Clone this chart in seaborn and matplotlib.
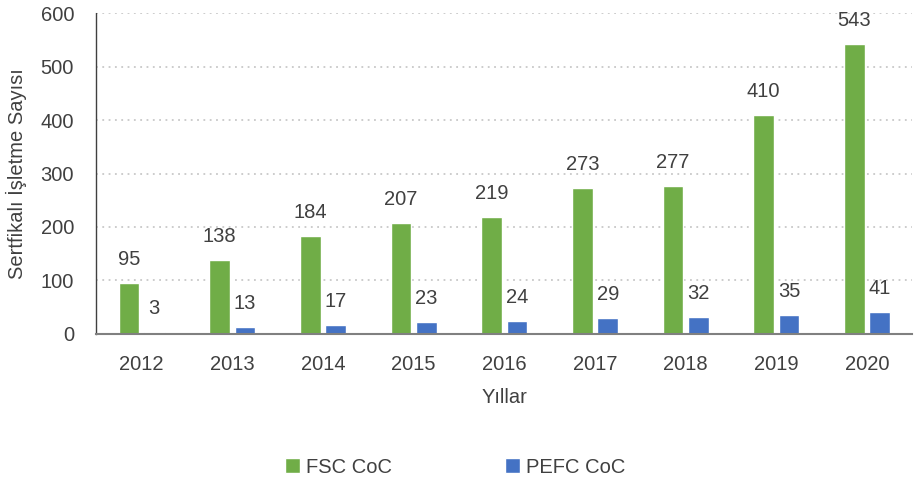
import matplotlib
matplotlib.use("Agg")
import matplotlib.pyplot as plt
import seaborn as sns
import pandas as pd
from matplotlib import font_manager

years = ["2012", "2013", "2014", "2015", "2016", "2017", "2018", "2019", "2020"]
fsc = [95, 138, 184, 207, 219, 273, 277, 410, 543]
pefc = [3, 13, 17, 23, 24, 29, 32, 35, 41]
series_names = ["FSC CoC", "PEFC CoC"]
colors = ["#70AD47", "#4472C4"]

df = pd.DataFrame({
    "Yıl": years * 2,
    "Değer": fsc + pefc,
    "Seri": [series_names[0]] * len(years) + [series_names[1]] * len(years),
})

sns.set_theme(style="white")
names = {f.name for f in font_manager.fontManager.ttflist}
fam = "Liberation Sans Narrow" if "Liberation Sans Narrow" in names else "Liberation Sans"
plt.rcParams["font.family"] = [fam, "DejaVu Sans"]
txt = "#404040"
fs = 14.5

fig = plt.figure(figsize=(9.17, 4.86), dpi=100)
ax = fig.add_axes([0.105, 0.313, 0.89, 0.66])

sns.barplot(data=df, x="Yıl", y="Değer", hue="Seri", palette=colors,
            width=0.56, gap=0.18, ax=ax, legend=True, saturation=1)

for cont in ax.containers:
    ax.bar_label(cont, padding=10, fontsize=fs, color=txt)

ax.set_ylim(0, 600)
ax.set_yticks(range(0, 601, 100))
ax.set_xlim(-0.5, len(years) - 0.5)
ax.yaxis.grid(True, linestyle=(0, (1, 2.5)), color="#C8C8C8", linewidth=1.3)
ax.set_axisbelow(True)
for s in ["top", "right"]:
    ax.spines[s].set_visible(False)
ax.spines["left"].set_linestyle((0, (1, 1)))
ax.spines["left"].set_color("#404040")
ax.spines["left"].set_linewidth(1)
ax.spines["bottom"].set_color("#808080")
ax.spines["bottom"].set_linewidth(1.5)
ax.tick_params(axis="both", labelsize=fs, colors=txt, length=0)
ax.tick_params(axis="x", pad=15)
ax.tick_params(axis="y", pad=16)
ax.set_xlabel("Yıllar", fontsize=fs, color=txt, labelpad=10)
ax.set_ylabel("Sertfikalı İşletme Sayısı", fontsize=fs, color=txt, labelpad=10)

ax.legend(loc="upper center", bbox_to_anchor=(0.44, -0.33), ncol=2, frameon=False,
          fontsize=fs, handlelength=0.75, handleheight=0.75, handletextpad=0.3,
          columnspacing=5.6, labelcolor=txt)

fig.savefig("out.png", dpi=100)
